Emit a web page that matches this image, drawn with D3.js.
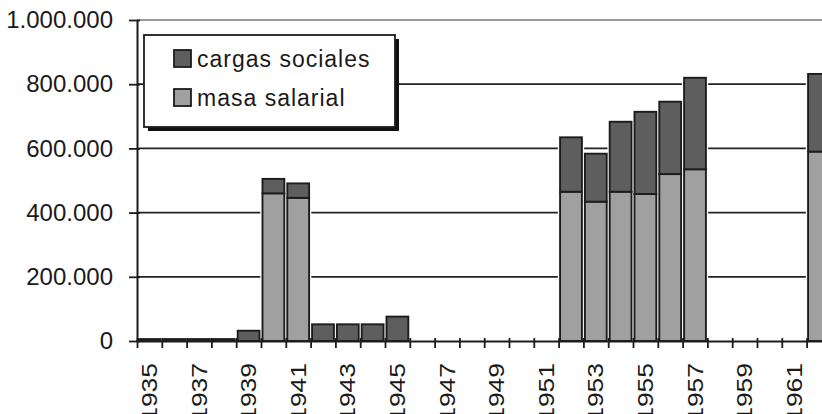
<!DOCTYPE html>
<html>
<head>
<meta charset="utf-8">
<script src="https://cdn.jsdelivr.net/npm/d3@7"></script>
<style>
  body { margin: 0; background: #fff; }
  svg { display: block; font-family: "Liberation Sans", Arial, sans-serif; }
</style>
</head>
<body>
<svg id="chart" width="822" height="414"></svg>
<script>
// data
var years = [1935, 1936, 1937, 1938, 1939, 1940, 1941, 1942, 1943, 1944, 1945, 1946, 1947, 1948,
             1949, 1950, 1951, 1952, 1953, 1954, 1955, 1956, 1957, 1958, 1959, 1960, 1961, 1962];
var masaSalarial = [0, 0, 0, 0, 0, 460000, 446000, 0, 0, 0, 0, 0, 0, 0,
                    0, 0, 0, 465000, 434000, 465000, 458000, 520000, 535000, 0, 0, 0, 0, 590000];
var cargasSociales = [6000, 6000, 6000, 6000, 32000, 45000, 45000, 52000, 52000, 52000, 76000, 0, 0, 0,
                      0, 0, 0, 169500, 149500, 218000, 256000, 225500, 285000, 0, 0, 0, 0, 242000];
var yTicks = [0, 200000, 400000, 600000, 800000, 1000000];
var seriesNames = ["masa salarial", "cargas sociales"];
var seriesColors = { "masa salarial": "#a0a0a0", "cargas sociales": "#5e5e5e" };

var svg = d3.select("#chart");
var plotLeft = 137, plotTop = 20, plotBottom = 341;
var band = 24.8;
var plotRight = plotLeft + years.length * band;

var rows = years.map(function(yr, i) {
    return { year: yr, "masa salarial": masaSalarial[i], "cargas sociales": cargasSociales[i] };
});

var x = d3.scaleBand().domain(years).range([plotLeft, plotRight]).paddingInner(0.12).paddingOuter(0.06);
var xEdge = d3.scaleLinear().domain([0, years.length]).range([plotLeft, plotRight]);
var y = d3.scaleLinear().domain([0, 1000000]).range([plotBottom, plotTop]);

var loc = d3.formatLocale({ decimal: ",", thousands: ".", grouping: [3], currency: ["", ""] });
var fmt = loc.format(",d");

// gridlines
svg.append("g").selectAll("line")
    .data(yTicks.filter(function(d) { return d > 0; }))
    .enter().append("line")
    .attr("x1", plotLeft).attr("x2", plotRight)
    .attr("y1", function(d) { return y(d); })
    .attr("y2", function(d) { return y(d); })
    .attr("stroke", function(d) { return d == 1000000 ? "#9a9a9a" : "#222"; })
    .attr("stroke-width", function(d) { return d == 1000000 ? 2 : 1.8; });

// stacked bars
var stacked = d3.stack().keys(seriesNames)(rows);
var totals = rows.filter(function(r) { return r["masa salarial"] + r["cargas sociales"] > 0; });

// white halo behind each bar, like the original
svg.append("g").selectAll("rect")
    .data(totals)
    .enter().append("rect")
    .attr("x", function(d) { return x(d.year); })
    .attr("width", x.bandwidth())
    .attr("y", function(d) { return y(d["masa salarial"] + d["cargas sociales"]); })
    .attr("height", function(d) { return plotBottom - y(d["masa salarial"] + d["cargas sociales"]); })
    .attr("fill", "#fff").attr("stroke", "#fff").attr("stroke-width", 4.5);

var layers = svg.append("g").selectAll("g")
    .data(stacked)
    .enter().append("g")
    .attr("fill", function(d) { return seriesColors[d.key]; });

layers.selectAll("rect")
    .data(function(d) { return d.filter(function(p) { return p[1] - p[0] > 0; }); })
    .enter().append("rect")
    .attr("x", function(d) { return x(d.data.year); })
    .attr("width", x.bandwidth())
    .attr("y", function(d) { return y(d[1]); })
    .attr("height", function(d) { return y(d[0]) - y(d[1]); })
    .attr("stroke", "#1c1c1c")
    .attr("stroke-width", 1.9);

// y axis
var yAxis = svg.append("g")
    .attr("transform", "translate(" + plotLeft + ",0)")
    .call(d3.axisLeft(y).tickValues(yTicks).tickFormat(fmt).tickSizeInner(8).tickSizeOuter(0).tickPadding(16));
yAxis.select(".domain").attr("stroke", "#1c1c1c").attr("stroke-width", 2);
yAxis.selectAll(".tick line").attr("stroke", "#1c1c1c").attr("stroke-width", 1.8).attr("x2", 3).attr("x1", -8);
yAxis.selectAll(".tick text")
    .attr("font-size", "24px").attr("fill", "#1a1a1a")
    .attr("font-family", "Liberation Sans, Arial, sans-serif");

// x axis: ticks between categories
var xAxis = svg.append("g")
    .attr("transform", "translate(0," + plotBottom + ")")
    .call(d3.axisBottom(xEdge).tickValues(d3.range(0, years.length + 1)).tickFormat("").tickSizeInner(7).tickSizeOuter(0));
xAxis.select(".domain").attr("stroke", "#1c1c1c").attr("stroke-width", 2);
xAxis.selectAll(".tick line").attr("stroke", "#1c1c1c").attr("stroke-width", 1.8).attr("y1", -3);

// year labels, every other year
svg.append("g").selectAll("text")
    .data(years.filter(function(d) { return d % 2 == 1; }))
    .enter().append("text")
    .attr("transform", function(d) {
        return "translate(" + (x(d) + x.bandwidth() / 2) + ",363) rotate(-90) scale(1.15,0.92)";
    })
    .attr("text-anchor", "end")
    .attr("dy", "0.36em")
    .attr("font-size", "23px")
    .attr("fill", "#1a1a1a")
    .text(function(d) { return d; });

// legend
var legend = svg.append("g");
legend.append("rect").attr("x", 148).attr("y", 39).attr("width", 251).attr("height", 92).attr("fill", "#111");
legend.append("rect").attr("x", 144).attr("y", 35).attr("width", 251).attr("height", 92)
    .attr("fill", "#fff").attr("stroke", "#1c1c1c").attr("stroke-width", 1.8);

var legendItems = ["cargas sociales", "masa salarial"];
var item = legend.selectAll(".item")
    .data(legendItems)
    .enter().append("g")
    .attr("class", "item")
    .attr("transform", function(d, i) { return "translate(174," + (50 + i * 39) + ")"; });
item.append("rect")
    .attr("width", 17).attr("height", 17)
    .attr("fill", function(d) { return seriesColors[d]; })
    .attr("stroke", "#1c1c1c").attr("stroke-width", 1.8);
item.append("text")
    .attr("x", 23).attr("y", 17)
    .attr("font-size", "23px")
    .attr("letter-spacing", "1px")
    .attr("fill", "#1a1a1a")
    .text(function(d) { return d; });
</script>
</body>
</html>
